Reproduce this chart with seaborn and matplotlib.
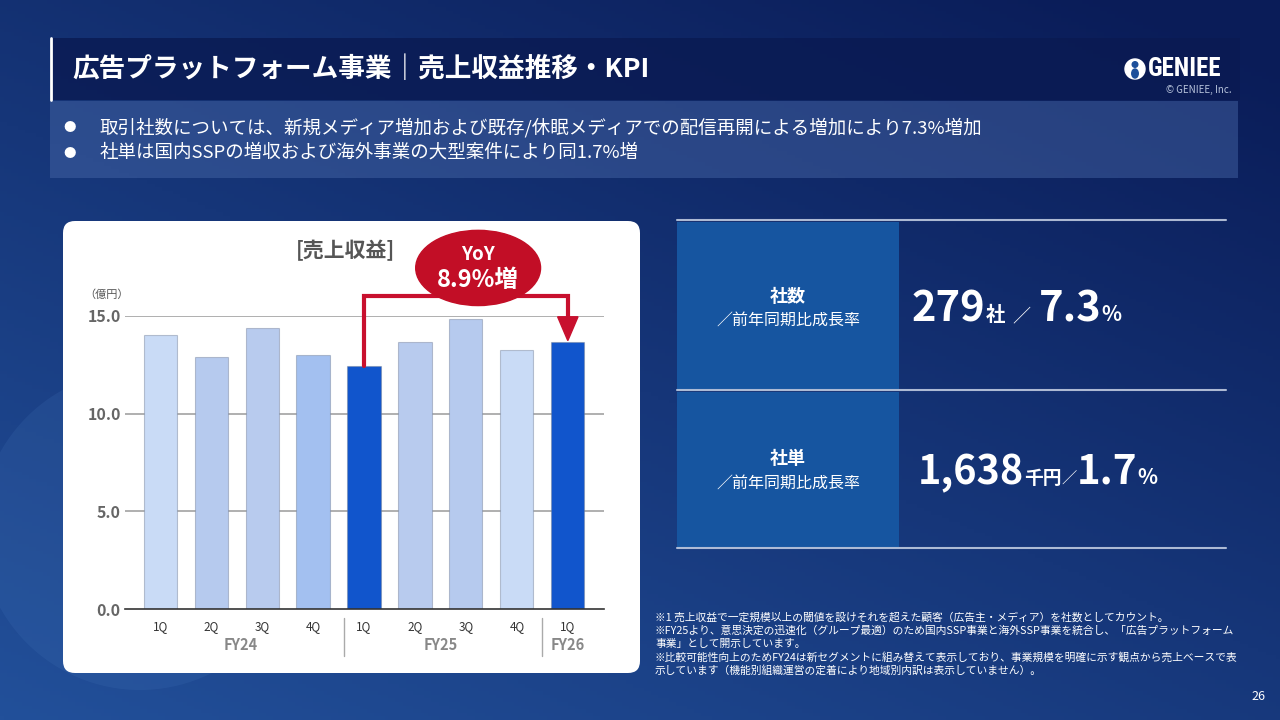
import numpy as np
import pandas as pd
import matplotlib
matplotlib.use("Agg")
import matplotlib.pyplot as plt
import seaborn as sns
from matplotlib.patches import FancyBboxPatch, Rectangle, Ellipse, Polygon, Circle

# ---------------- data ----------------
quarters = ["1Q", "2Q", "3Q", "4Q", "1Q", "2Q", "3Q", "4Q", "1Q"]
fiscal_years = ["FY24", "FY24", "FY24", "FY24", "FY25", "FY25", "FY25", "FY25", "FY26"]
revenue = [14.03, 12.88, 14.37, 12.98, 12.45, 13.66, 14.85, 13.25, 13.66]
bar_colors = ["#c9dbf6", "#b6caee", "#b8cbee", "#a3c0f0", "#1155cc",
              "#b8cbee", "#b6caee", "#c9dbf6", "#1155cc"]
y_ticks = [0.0, 5.0, 10.0, 15.0]
fy_groups = ["FY24", "FY25", "FY26"]
yoy_label = ["YoY", "8.9%増"]

title_text = "広告プラットフォーム事業｜売上収益推移・KPI"
bullets = ["取引社数については、新規メディア増加および既存/休眠メディアでの配信再開による増加により7.3%増加",
           "社単は国内SSPの増収および海外事業の大型案件により同1.7%増"]
kpi_labels = ["社数", "社単"]
kpi_sub = "／前年同期比成長率"
kpi_values = [[("279", 30, "bold"), ("社", 14, "bold"), ("  ／  ", 13, "normal"), ("7.3", 30, "bold"), ("%", 15, "bold")],
              [("1,638", 28.5, "bold"), ("千円", 13.5, "bold"), ("／", 11, "normal"), ("1.7", 29, "bold"), ("%", 15, "bold")]]
footnotes = ["※1 売上収益で一定規模以上の閾値を設けそれを超えた顧客（広告主・メディア）を社数としてカウント。",
             "※FY25より、意思決定の迅速化（グループ最適）のため国内SSP事業と海外SSP事業を統合し、「広告プラットフォーム",
             "事業」として開示しています。",
             "※比較可能性向上のためFY24は新セグメントに組み替えて表示しており、事業規模を明確に示す観点から売上ベースで表",
             "示しています（機能別組織運営の定着により地域別内訳は表示していません）。"]
page_no = "26"

# ---------------- style ----------------
sns.set_theme(style="white")
plt.rcParams['font.family'] = ['Noto Sans CJK JP', 'DejaVu Sans']

W, H = 1280, 720
fig = plt.figure(figsize=(12.8, 7.2), dpi=100)

# background axes in pixel coordinates
bg = fig.add_axes([0, 0, 1, 1])
bg.set_xlim(0, W)
bg.set_ylim(H, 0)
bg.axis("off")

# gradient background
yy, xx = np.mgrid[0:1:200j, 0:1:356j]
t = np.clip(0.6 * yy + 0.45 * (1 - xx) - 0.05, 0, 1)
c_dark = np.array([0x0a, 0x1c, 0x58]) / 255
c_light = np.array([0x22, 0x50, 0x9a]) / 255
img = c_dark[None, None, :] * (1 - t[..., None]) + c_light[None, None, :] * t[..., None]
bg.imshow(img, extent=[0, W, H, 0], aspect="auto", zorder=0)
bg.add_patch(Circle((140, 530), 160, color="#4a7cc0", alpha=0.16, lw=0, zorder=1))

# header strip
bg.add_patch(Rectangle((50, 38), 1190, 62, color="#0a1a52", alpha=0.8, lw=0, zorder=2))
bg.plot([51, 51], [38, 100], color="white", lw=2, zorder=3)
bg.text(72, 70, title_text, color="white", fontsize=19.2, weight="bold", va="center", ha="left", zorder=4)

# logo
bg.add_patch(Circle((1135, 69), 10, color="white", zorder=4))
bg.add_patch(Circle((1135, 64.5), 2.8, color="#1d4f9a", zorder=5))
bg.add_patch(Ellipse((1135, 73.5), 6.5, 9, color="#1d4f9a", zorder=5))
bg.text(1148, 69, "GENIEE", color="white", fontsize=18, weight="bold", va="center", ha="left", zorder=4,
        family=["Roboto Condensed", "Roboto", "DejaVu Sans"])
bg.text(1232, 90, "© GENIEE, Inc.", color="#b8c4dc", fontsize=7, va="center", ha="right", zorder=4)

# bullet box
bg.add_patch(Rectangle((50, 101), 1188, 77, color="#4a6aaa", alpha=0.45, lw=0, zorder=2))
for i, b in enumerate(bullets):
    yb = 128 + i * 25
    bg.text(70, yb, "●", color="white", fontsize=9, va="center", ha="center", zorder=4)
    bg.text(100, yb, b, color="white", fontsize=13.3, va="center", ha="left", zorder=4)

# chart panel
bg.add_patch(FancyBboxPatch((63, 221), 577, 452, boxstyle="round,pad=0,rounding_size=12",
                            fc="white", ec="none", zorder=2))
bg.text(345, 250, "[売上収益]", color="#555555", fontsize=15, weight="bold", ha="center", va="center", zorder=4)
bg.text(107, 295, "（億円）", color="#555555", fontsize=8, ha="center", va="center", zorder=4)

# KPI panel
for yl in [220, 390, 548]:
    bg.plot([677, 1226], [yl, yl], color="#c9d3e6", lw=1.5, alpha=0.85, zorder=3)
for (y0, y1) in [(221.5, 389), (391.5, 547)]:
    bg.add_patch(Rectangle((677, y0), 222, y1 - y0, color="#1655a0", lw=0, zorder=2))

renderer = fig.canvas.get_renderer()
kpi_rows_y = [296, 459]
value_start = [912, 918]
for i in range(2):
    ly = kpi_rows_y[i]
    bg.text(788, ly, kpi_labels[i], color="white", fontsize=13, weight="bold", ha="center", va="center", zorder=4)
    bg.text(788, ly + 24, kpi_sub, color="white", fontsize=11.5, ha="center", va="center", zorder=4)
    x = value_start[i]
    base = ly + 25
    for txt, size, wt in kpi_values[i]:
        tt = bg.text(x, base, txt, color="white", fontsize=size, weight=wt, ha="left", va="baseline", zorder=4)
        x += tt.get_window_extent(renderer).width

# footnotes
for i, f in enumerate(footnotes):
    bg.text(655, 617 + i * 13.3, f, color="white", fontsize=7.75, ha="left", va="center", zorder=4)

bg.text(1258, 697, page_no, color="white", fontsize=9, ha="center", va="center", zorder=4)

# ---------------- bar chart ----------------
ax_l, ax_r, ax_b, ax_t = 125, 604, 609, 316
ax = fig.add_axes([ax_l / W, (H - ax_b) / H, (ax_r - ax_l) / W, (ax_b - ax_t) / H])
ax.patch.set_alpha(0)

labels = [f"{fy} {q}" for fy, q in zip(fiscal_years, quarters)]
df = pd.DataFrame({"label": labels, "revenue": revenue})
sns.barplot(data=df, x="label", y="revenue", hue="label", palette=bar_colors, legend=False,
            saturation=1, width=0.65, ax=ax, edgecolor=(0.45, 0.5, 0.6, 0.45), linewidth=0.8, zorder=3)

ax.set_ylim(0, 15)
ax.set_xlim(-0.69, 8.71)
ax.set_yticks(y_ticks)
ax.set_yticklabels([f"{v:.1f}" for v in y_ticks], color="#666666", fontsize=11.5, weight="bold")
ax.tick_params(axis="y", length=0, pad=3)
ax.set_xticks(range(len(quarters)))
ax.set_xticklabels(quarters, color="#333333", fontsize=8.5)
ax.tick_params(axis="x", length=0, pad=8)
ax.set_xlabel("")
ax.set_ylabel("")
for s in ["top", "right", "left"]:
    ax.spines[s].set_visible(False)
ax.spines["bottom"].set_color("#333333")
ax.spines["bottom"].set_linewidth(1.2)
ax.spines["bottom"].set_zorder(5)
for v in y_ticks[1:]:
    ax.axhline(v, color="#9a9a9a", lw=1.1, zorder=1)

# fiscal year group labels and separators
trans = ax.get_xaxis_transform()
fy_pos = {}
for i, fy in enumerate(fiscal_years):
    fy_pos.setdefault(fy, []).append(i)
for fy in fy_groups:
    p = fy_pos[fy]
    ax.text((p[0] + p[-1]) / 2 + (0.09 if fy == "FY24" else 0), -0.123, fy, transform=trans,
            ha="center", va="center", color="#888888", fontsize=10.5, weight="bold", clip_on=False)
for sep in [3.6, 7.5]:
    ax.plot([sep, sep], [-0.03, -0.16], transform=trans, color="#aaaaaa", lw=1, clip_on=False)

# YoY bracket and bubble
red = "#c8102e"
i0, i1 = 4, 8
yb = 16.0
ax.plot([i0, i0, i1, i1], [revenue[i0], yb, yb, revenue[i1] + 1.2], color=red, lw=3,
        solid_joinstyle="miter", clip_on=False, zorder=6)
ax.add_patch(Polygon([[i1 - 0.2, revenue[i1] + 1.3], [i1 + 0.2, revenue[i1] + 1.3], [i1, revenue[i1] + 0.08]],
                     closed=True, color=red, clip_on=False, zorder=6))
ax.add_patch(Ellipse((6.24, 17.46), 2.45, 3.85, color="#c20e26", clip_on=False, zorder=7))
ax.text(6.24, 18.15, yoy_label[0], color="white", fontsize=13.5, weight="bold", ha="center", va="center",
        clip_on=False, zorder=8)
ax.text(6.24, 16.85, yoy_label[1], color="white", fontsize=17, weight="bold", ha="center", va="center",
        clip_on=False, zorder=8)

fig.savefig("out.png", dpi=100)
